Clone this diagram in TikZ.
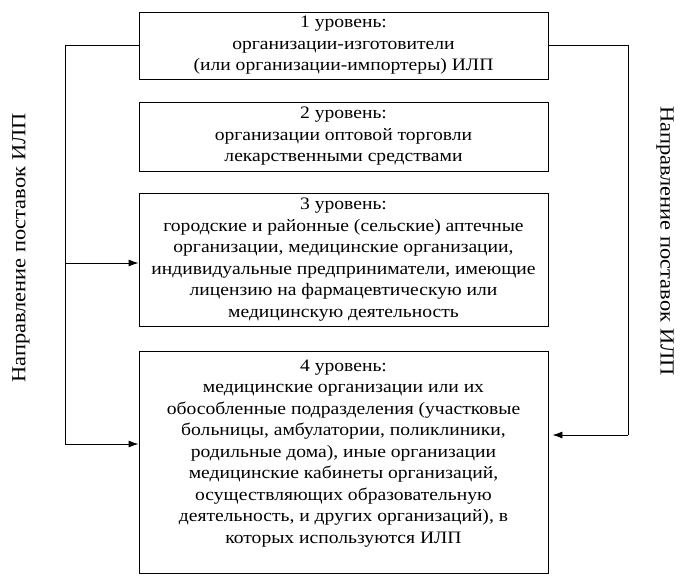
\documentclass[tikz,border=0pt]{standalone}
\usepackage{fontspec}
\setmainfont{Liberation Serif}[FakeStretch=1.12]
\usetikzlibrary{arrows.meta}

\begin{document}
\begin{tikzpicture}[x=1pt,y=-1pt,
  level/.style={draw,line width=0.9pt,align=center,minimum width=409pt,inner sep=2pt,
    font=\fontsize{17.5}{21.5}\selectfont},
  flow/.style={line width=0.9pt,-{Latex[length=10pt,width=7pt]}},
  side/.style={font=\fontsize{20}{24}\selectfont}]
  \useasboundingbox (0,0) rectangle (690,582);

  % the four levels
  \node[level,minimum height=67pt] (l1) at (343.5,45.5)
    {1 уровень:\\организации-изготовители\\(или организации-импортеры) ИЛП};
  \node[level,minimum height=69pt] (l2) at (343.5,136.5)
    {2 уровень:\\организации оптовой торговли\\лекарственными средствами};
  \node[level,minimum height=133pt] (l3) at (343.5,259.5)
    {3 уровень:\\городские и районные (сельские) аптечные\\организации, медицинские организации,\\индивидуальные предприниматели, имеющие\\лицензию на фармацевтическую или\\медицинскую деятельность};
  \node[level,minimum height=222pt] (l4) at (343.5,462)
    {4 уровень:\\медицинские организации или их\\обособленные подразделения (участковые\\больницы, амбулатории, поликлиники,\\родильные дома), иные организации\\медицинские кабинеты организаций,\\осуществляющих образовательную\\деятельность, и других организаций), в\\которых используются ИЛП\\ \mbox{}};

  % supply direction labels
  \node[side,rotate=90] (dirl) at (21,248) {Направление поставок ИЛП};
  \node[side,rotate=-90] (dirr) at (665,241) {Направление поставок ИЛП};

  % left supply line
  \coordinate (lmid) at (65,263);
  \coordinate (lbot) at (65,444);
  \draw[line width=0.9pt] (l1.west) -| (lbot);
  \draw[flow] (lmid) -- (lmid -| l3.west);
  \draw[flow] (lbot) -- (lbot -| l4.west);

  % right supply line
  \coordinate (rbot) at (628,435);
  \draw[line width=0.9pt] (l1.east) -| (rbot);
  \draw[flow,shorten >=4pt] (rbot) -- (rbot -| l4.east);
\end{tikzpicture}
\end{document}
